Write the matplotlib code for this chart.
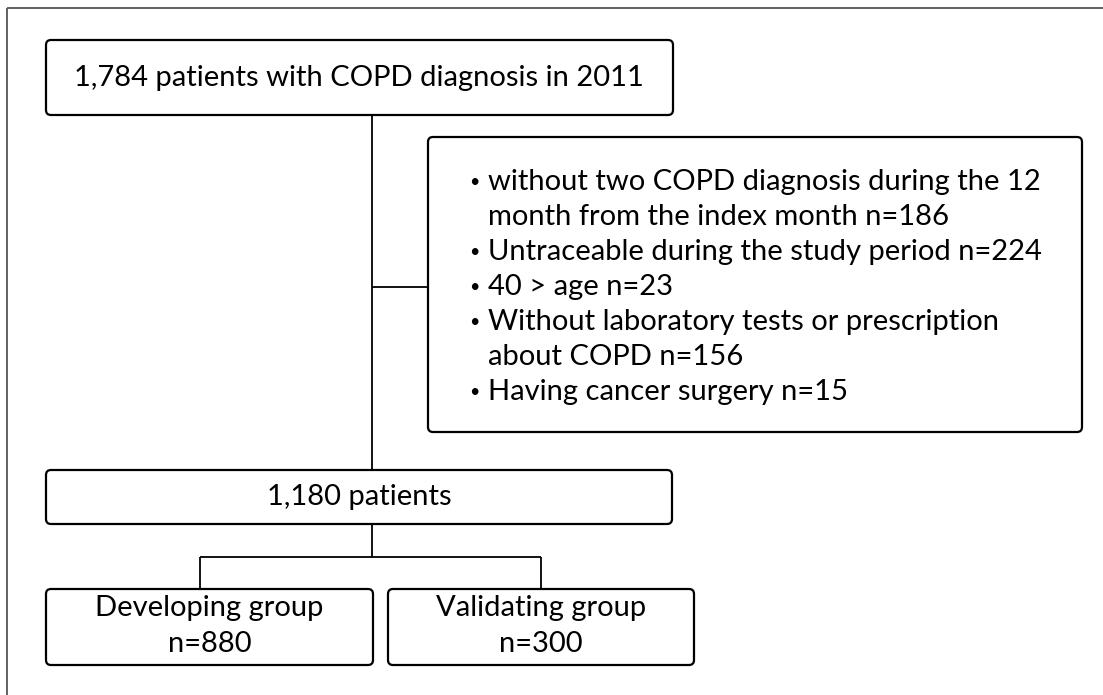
import matplotlib.pyplot as plt
from matplotlib.patches import FancyBboxPatch

plt.rcParams['font.family'] = ['Lato', 'DejaVu Sans']

# box texts
top_label = '1,784 patients with COPD diagnosis in 2011'
mid_label = '1,180 patients'
group_labels = ['Developing group\nn=880', 'Validating group\nn=300']

# exclusion criteria (text lines, bullet marks start of item)
exclusion_lines = [
    ('•', 'without two COPD diagnosis during the 12'),
    ('', 'month from the index month n=186'),
    ('•', 'Untraceable during the study period n=224'),
    ('•', '40 > age n=23'),
    ('•', 'Without laboratory tests or prescription'),
    ('', 'about COPD n=156'),
    ('•', 'Having cancer surgery n=15'),
]

W, H = 1103, 695
fig = plt.figure(figsize=(W / 100, H / 100), dpi=100)
ax = fig.add_axes([0, 0, 1, 1])
ax.set_xlim(0, W)
ax.set_ylim(H, 0)
ax.axis('off')

def box(x0, y0, x1, y1, lw=1.6):
    p = FancyBboxPatch((x0, y0), x1 - x0, y1 - y0,
                       boxstyle='round,pad=0,rounding_size=5',
                       fc='white', ec='black', lw=lw, zorder=3)
    ax.add_patch(p)

def line(xs, ys, color='black'):
    ax.plot(xs, ys, color=color, lw=1.3, zorder=2, solid_capstyle='butt')

# outer frame (top and left only)
line([7, W], [8, 8], '#555555')
line([7, 7], [8, H], '#555555')

# connectors
line([372, 372], [115, 470])
line([372, 428], [287, 287])
line([372, 372], [524, 557])
line([200, 541], [557, 557])
line([200, 200], [557, 589])
line([541, 541], [557, 589])

fs = 21

box(46, 40, 673, 115)
ax.text(359, 78, top_label, ha='center', va='center', fontsize=fs, zorder=4)

box(428, 137, 1082, 432)
for i, (b, t) in enumerate(exclusion_lines):
    y = 182 + i * 35
    if b:
        ax.text(474, y, b, ha='center', va='center', fontsize=13, zorder=4)
    ax.text(488, y, t, ha='left', va='center', fontsize=fs, zorder=4)

box(46, 470, 672, 524)
ax.text(359, 497, mid_label, ha='center', va='center', fontsize=fs, zorder=4)

for (x0, x1), lab in zip([(46, 373), (388, 694)], group_labels):
    box(x0, 589, x1, 665)
    ax.text((x0 + x1) / 2, 626, lab, ha='center', va='center', fontsize=fs,
            linespacing=1.45, zorder=4)

fig.savefig('out.png', dpi=100)
